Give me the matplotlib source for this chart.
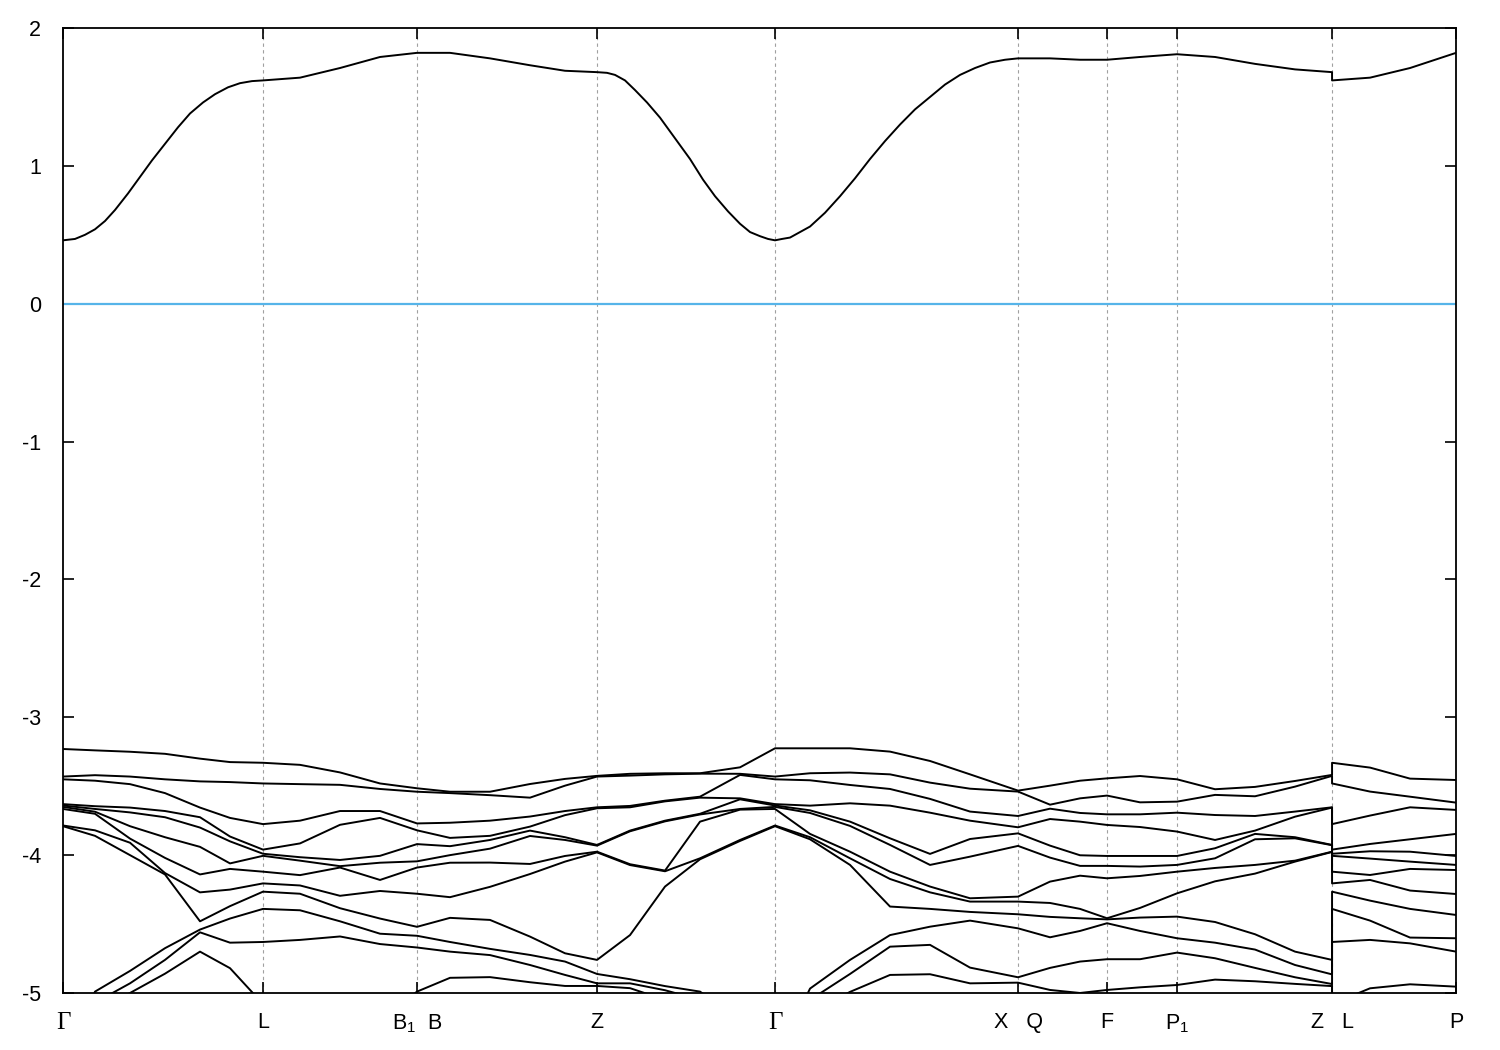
import numpy as np
import matplotlib
matplotlib.use("Agg")
import matplotlib.pyplot as plt

plt.rcParams['font.family'] = ['Liberation Sans', 'DejaVu Sans']
plt.rcParams['mathtext.fontset'] = 'custom'
plt.rcParams['mathtext.rm'] = 'Liberation Sans'
plt.rcParams['mathtext.it'] = 'Liberation Sans'
plt.rcParams['axes.unicode_minus'] = False

# high symmetry points along the path (path length, arbitrary units)
sym_k = [0.0, 0.200, 0.354, 0.534, 0.712, 0.955, 1.044, 1.114, 1.269, 1.393]
sym_labels = ['Γ', 'L', r'B$_1$  B', 'Z', 'Γ', 'X   Q', 'F', r'P$_1$', 'Z   L', 'P']

# conduction band
cb_k = [0.0, 0.012, 0.022, 0.032, 0.042, 0.052, 0.065, 0.077, 0.089, 0.102,
        0.115, 0.127, 0.140, 0.152, 0.165, 0.177, 0.189, 0.200,
        0.237, 0.277, 0.317, 0.354, 0.387, 0.427, 0.467, 0.502, 0.534,
        0.544, 0.552, 0.562, 0.572, 0.584, 0.597, 0.612, 0.627, 0.640,
        0.652, 0.665, 0.677, 0.687, 0.697, 0.705, 0.712,
        0.719, 0.727, 0.737, 0.747, 0.762, 0.777, 0.792, 0.807, 0.822,
        0.837, 0.852, 0.867, 0.882, 0.897, 0.912, 0.927, 0.942, 0.955,
        0.987, 1.017, 1.044, 1.077, 1.114, 1.152, 1.192, 1.232, 1.269,
        1.269, 1.307, 1.347, 1.393]
cb_e = [0.46, 0.47, 0.50, 0.54, 0.60, 0.68, 0.80, 0.92, 1.04, 1.16,
        1.28, 1.38, 1.46, 1.52, 1.57, 1.60, 1.615, 1.62,
        1.64, 1.71, 1.79, 1.82, 1.82, 1.78, 1.73, 1.69, 1.68,
        1.675, 1.66, 1.62, 1.55, 1.46, 1.35, 1.20, 1.05, 0.90,
        0.78, 0.67, 0.58, 0.52, 0.49, 0.47, 0.46,
        0.47, 0.48, 0.52, 0.56, 0.66, 0.78, 0.91, 1.05, 1.18,
        1.30, 1.41, 1.50, 1.59, 1.66, 1.71, 1.75, 1.77, 1.78,
        1.78, 1.77, 1.77, 1.79, 1.81, 1.79, 1.74, 1.70, 1.68,
        1.62, 1.64, 1.71, 1.82]

# valence bands: one row per k point, bands ordered from top to bottom
vb_k = [0.0, 0.032, 0.067, 0.102, 0.137, 0.167, 0.200,
        0.237, 0.277, 0.317, 0.354,
        0.387, 0.427, 0.467, 0.502, 0.534,
        0.567, 0.602, 0.637, 0.677, 0.712,
        0.747, 0.787, 0.827, 0.867, 0.907, 0.955,
        0.987, 1.017, 1.044,
        1.077, 1.114,
        1.152, 1.192, 1.232, 1.269,
        1.269, 1.307, 1.347, 1.393]
vb_e = [
    [-3.23, -3.43, -3.45, -3.63, -3.64, -3.65, -3.665, -3.785, -3.79, -5.5, -5.7, -5.9],
    [-3.24, -3.42, -3.46, -3.645, -3.665, -3.685, -3.70, -3.82, -3.86, -4.99, -5.07, -5.15],
    [-3.25, -3.43, -3.485, -3.655, -3.69, -3.79, -3.88, -3.91, -4.00, -4.84, -4.93, -5.0],
    [-3.265, -3.45, -3.55, -3.68, -3.725, -3.87, -4.02, -4.13, -4.14, -4.675, -4.76, -4.86],
    [-3.30, -3.465, -3.655, -3.725, -3.80, -3.94, -4.14, -4.27, -4.48, -4.54, -4.56, -4.70],
    [-3.325, -3.47, -3.73, -3.865, -3.90, -4.06, -4.10, -4.25, -4.37, -4.46, -4.635, -4.82],
    [-3.33, -3.48, -3.775, -3.96, -3.99, -4.005, -4.12, -4.205, -4.265, -4.39, -4.63, -5.08],
    [-3.345, -3.485, -3.75, -3.915, -4.015, -4.04, -4.145, -4.22, -4.28, -4.40, -4.615, -5.3],
    [-3.40, -3.49, -3.68, -3.78, -4.035, -4.08, -4.09, -4.295, -4.385, -4.48, -4.59, -5.3],
    [-3.48, -3.52, -3.68, -3.73, -4.005, -4.055, -4.18, -4.26, -4.46, -4.57, -4.645, -5.2],
    [-3.515, -3.54, -3.77, -3.82, -3.92, -4.045, -4.09, -4.28, -4.52, -4.585, -4.67, -4.99],
    [-3.54, -3.55, -3.765, -3.875, -3.935, -4.00, -4.055, -4.305, -4.455, -4.63, -4.70, -4.89],
    [-3.54, -3.565, -3.75, -3.86, -3.89, -3.953, -4.054, -4.23, -4.47, -4.68, -4.725, -4.885],
    [-3.484, -3.583, -3.72, -3.793, -3.822, -3.861, -4.064, -4.137, -4.591, -4.724, -4.797, -4.922],
    [-3.447, -3.496, -3.68, -3.71, -3.87, -3.89, -4.006, -4.047, -4.712, -4.772, -4.869, -4.949],
    [-3.425, -3.43, -3.653, -3.66, -3.926, -3.931, -3.975, -3.98, -4.76, -4.862, -4.93, -4.949],
    [-3.41, -3.423, -3.643, -3.653, -3.822, -3.827, -4.066, -4.072, -4.58, -4.90, -4.93, -4.965],
    [-3.406, -3.414, -3.605, -3.61, -3.75, -3.755, -4.112, -4.117, -4.228, -4.95, -4.98, -5.05],
    [-3.406, -3.409, -3.576, -3.583, -3.70, -3.705, -3.757, -4.023, -4.03, -4.99, -5.05, -5.1],
    [-3.363, -3.41, -3.418, -3.588, -3.595, -3.665, -3.67, -3.89, -3.897, -5.2, -5.3, -5.4],
    [-3.225, -3.43, -3.45, -3.63, -3.64, -3.65, -3.665, -3.785, -3.79, -5.5, -5.7, -5.9],
    [-3.225, -3.406, -3.457, -3.641, -3.675, -3.694, -3.846, -3.87, -3.885, -4.968, -5.05, -5.15],
    [-3.225, -3.401, -3.491, -3.624, -3.757, -3.788, -3.975, -4.023, -4.071, -4.76, -4.862, -4.992],
    [-3.249, -3.414, -3.52, -3.641, -3.878, -3.926, -4.12, -4.173, -4.373, -4.58, -4.664, -4.869],
    [-3.317, -3.474, -3.592, -3.692, -3.991, -4.071, -4.228, -4.27, -4.39, -4.519, -4.651, -4.864],
    [-3.414, -3.518, -3.684, -3.75, -3.883, -4.011, -4.313, -4.337, -4.412, -4.475, -4.816, -4.93],
    [-3.532, -3.539, -3.716, -3.798, -3.842, -3.933, -4.301, -4.337, -4.429, -4.531, -4.886, -4.925],
    [-3.496, -3.634, -3.663, -3.738, -3.931, -4.018, -4.192, -4.347, -4.448, -4.596, -4.818, -4.978],
    [-3.46, -3.588, -3.694, -3.757, -4.001, -4.078, -4.149, -4.39, -4.458, -4.55, -4.772, -5.0],
    [-3.443, -3.568, -3.704, -3.781, -4.006, -4.078, -4.168, -4.458, -4.466, -4.494, -4.755, -4.978],
    [-3.426, -3.617, -3.704, -3.796, -4.006, -4.083, -4.151, -4.383, -4.453, -4.55, -4.755, -4.959],
    [-3.45, -3.612, -3.692, -3.829, -4.006, -4.071, -4.12, -4.277, -4.446, -4.603, -4.707, -4.942],
    [-3.522, -3.563, -3.709, -3.89, -3.95, -4.023, -4.093, -4.19, -4.485, -4.635, -4.748, -4.903],
    [-3.505, -3.573, -3.716, -3.822, -3.846, -3.885, -4.071, -4.134, -4.574, -4.685, -4.818, -4.915],
    [-3.462, -3.503, -3.684, -3.721, -3.87, -3.878, -4.04, -4.047, -4.70, -4.797, -4.886, -4.934],
    [-3.418, -3.425, -3.653, -3.655, -3.926, -3.928, -3.975, -3.977, -4.76, -4.865, -4.935, -4.95],
    [-3.33, -3.48, -3.775, -3.96, -3.99, -4.005, -4.12, -4.205, -4.265, -4.39, -4.63, -5.08],
    [-3.365, -3.539, -3.713, -3.919, -3.972, -4.025, -4.144, -4.18, -4.33, -4.475, -4.615, -4.966],
    [-3.445, -3.576, -3.653, -3.885, -3.975, -4.047, -4.10, -4.257, -4.39, -4.598, -4.64, -4.937],
    [-3.455, -3.619, -3.672, -3.846, -4.006, -4.071, -4.108, -4.282, -4.434, -4.603, -4.70, -4.954],
]

fig = plt.figure(figsize=(15, 10.5), dpi=100)
ax = fig.add_axes([0.042, 0.0543, 0.9287, 0.919])

for xk in sym_k[1:-1]:
    ax.axvline(xk, color='#a0a0a0', lw=0.8, ls=(0, (3, 3)), zorder=1)

ax.axhline(0, color='#56b4e9', lw=1.6, zorder=2)

ax.plot(cb_k, cb_e, color='black', lw=1.4, zorder=3)
vb = np.array(vb_e)
for i in range(vb.shape[1]):
    ax.plot(vb_k, vb[:, i], color='black', lw=1.4, zorder=3)

ax.set_xlim(sym_k[0], sym_k[-1])
ax.set_ylim(-5, 2)
ax.set_yticks(range(-5, 3))
ax.set_xticks(sym_k)
ax.set_xticklabels(sym_labels)

ax.tick_params(axis='both', direction='in', length=8, width=1.2, labelsize=15.5,
               top=True, right=True)
ax.tick_params(axis='x', pad=14)
ax.tick_params(axis='y', pad=16)
for s in ax.spines.values():
    s.set_linewidth(1.3)

# gamma in a serif face, like the original
for lab in ax.get_xticklabels():
    if lab.get_text() == 'Γ':
        lab.set_fontfamily('Liberation Serif')
        lab.set_fontsize(18)

fig.savefig('out.png', dpi=100)
